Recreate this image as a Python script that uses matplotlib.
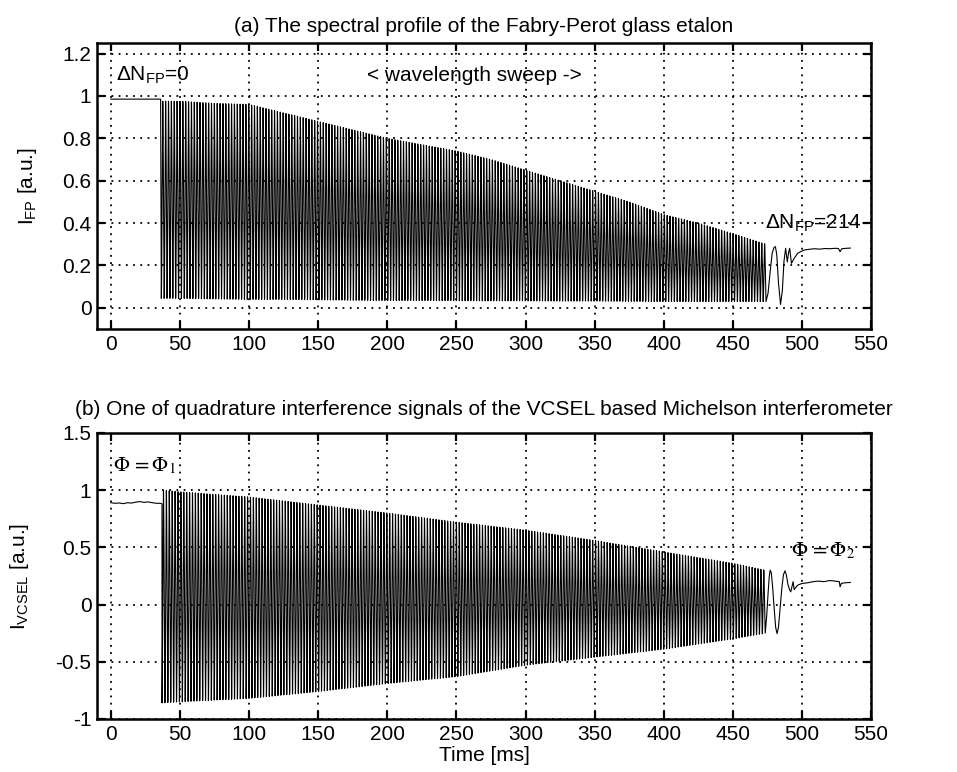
import numpy as np
import matplotlib
matplotlib.use("Agg")
import matplotlib.pyplot as plt
from matplotlib.ticker import FormatStrFormatter

plt.rcParams['font.family'] = ['Liberation Sans', 'DejaVu Sans']
plt.rcParams['mathtext.fontset'] = 'custom'
plt.rcParams['mathtext.rm'] = 'Liberation Sans'
plt.rcParams['mathtext.it'] = 'Liberation Sans:italic'

# ---- (a) Fabry-Perot etalon ----
fp_flat_t = [0, 36]
fp_flat_v = [0.985, 0.985]
fp_t0, fp_t1 = 36.5, 474.0          # dense fringe region
fp_fringes = 211                    # fringes inside the dense region
fp_env_t = [36, 50, 75, 100, 125, 150, 175, 200, 225, 250, 275, 300, 325,
            350, 375, 400, 425, 450, 474]
fp_env_up = [0.975, 0.975, 0.965, 0.96, 0.92, 0.88, 0.84, 0.80, 0.77, 0.74,
             0.70, 0.65, 0.60, 0.55, 0.50, 0.44, 0.40, 0.35, 0.30]
fp_env_lo = [0.045, 0.045, 0.042, 0.04, 0.04, 0.038, 0.036, 0.035, 0.035,
             0.034, 0.033, 0.033, 0.032, 0.032, 0.031, 0.03, 0.03, 0.03, 0.03]
fp_tail_t = [474.0, 475.5, 477.0, 478.5, 479.8, 480.8, 481.8, 483.0, 484.5,
             485.8, 487.0, 488.2, 489.4, 490.3, 491.1, 492.4, 494.3, 496.8,
             499, 501.7, 505, 509, 513, 516.5, 520, 524, 526.4, 527.6, 528.8,
             532, 535]
fp_tail_v = [0.03, 0.07, 0.17, 0.26, 0.285, 0.289, 0.25, 0.12, 0.016, 0.08,
             0.22, 0.281, 0.217, 0.26, 0.281, 0.21, 0.233, 0.257, 0.265, 0.273,
             0.276, 0.279, 0.277, 0.280, 0.279, 0.281, 0.280, 0.265, 0.279,
             0.281, 0.282]

# ---- (b) VCSEL Michelson ----
mi_flat_t = [0, 3, 6, 9, 12, 15, 18, 21, 24, 27, 30, 33, 36, 37]
mi_flat_v = [0.89, 0.885, 0.888, 0.882, 0.89, 0.887, 0.895, 0.9, 0.893,
             0.897, 0.89, 0.885, 0.885, 0.88]
mi_t0, mi_t1 = 37.0, 473.4
mi_fringes = 208
mi_env_t = [37, 50, 100, 150, 200, 250, 300, 350, 400, 450, 473.4]
mi_env_up = [1.0, 0.985, 0.94, 0.87, 0.80, 0.72, 0.65, 0.56, 0.46, 0.36, 0.30]
mi_env_lo = [-0.86, -0.85, -0.82, -0.76, -0.69, -0.63, -0.53, -0.46, -0.39,
             -0.30, -0.25]
mi_tail_t = [473.4, 474.5, 475.5, 476.3, 477.0, 477.8, 478.8, 480.0, 481.0,
             482.0, 483.0, 484.2, 485.5, 486.6, 487.7, 488.7, 489.8, 491.0,
             491.9, 492.8, 493.6, 494.4, 495.5, 497, 500, 504, 508, 512, 516,
             520, 524, 527, 527.6, 528.5, 531, 535]
mi_tail_v = [-0.25, -0.10, 0.10, 0.24, 0.30, 0.28, 0.15, -0.05, -0.20,
             -0.254, -0.20, -0.03, 0.15, 0.26, 0.295, 0.26, 0.18, 0.13, 0.111,
             0.16, 0.20, 0.13, 0.15, 0.17, 0.184, 0.19, 0.20, 0.205, 0.20,
             0.21, 0.205, 0.20, 0.155, 0.185, 0.19, 0.193]

xticks = np.arange(0, 551, 50)
FS = 15


def fringe_signal(t0, t1, n, env_t, up, lo, sign):
    # fringes of the given count between the read envelopes
    t = np.linspace(t0, t1, n * 24 + 1)
    ph = 2 * np.pi * n * (t - t0) / (t1 - t0)
    u = np.interp(t, env_t, up)
    l = np.interp(t, env_t, lo)
    return t, (u + l) / 2 + sign * (u - l) / 2 * np.cos(ph)


def style(ax, ylim, yticks):
    ax.set_xlim(-10, 550)
    ax.set_ylim(*ylim)
    ax.set_xticks(xticks)
    ax.set_yticks(yticks)
    ax.yaxis.set_major_formatter(FormatStrFormatter('%g'))
    ax.tick_params(direction='in', length=6, width=1.6, top=True, right=True,
                   labelsize=FS, pad=4)
    for s in ax.spines.values():
        s.set_linewidth(1.8)
    ax.grid(True, color='black', linestyle=(0, (1, 3)), linewidth=1.3)
    ax.set_axisbelow(True)


fig = plt.figure(figsize=(9.57, 7.72), dpi=100)
ax1 = fig.add_axes([0.1014, 0.5738, 0.8088, 0.3705])
ax2 = fig.add_axes([0.1014, 0.0687, 0.8088, 0.3705])

# (a)
t, v = fringe_signal(fp_t0, fp_t1, fp_fringes, fp_env_t, fp_env_up, fp_env_lo, -1)
ax1.plot(np.r_[fp_flat_t, t, fp_tail_t], np.r_[fp_flat_v, v, fp_tail_v],
         color='black', lw=0.8)
style(ax1, (-0.1, 1.25), np.arange(0, 1.21, 0.2))
ax1.set_title('(a) The spectral profile of the Fabry-Perot glass etalon',
              fontsize=15, pad=8)
ax1.set_ylabel(r'I$_{\mathrm{FP}}$ [a.u.]', fontsize=FS)
ax1.yaxis.set_label_coords(-0.075, 0.5)
ax1.text(4, 1.07, r'$\Delta$N$_{\mathrm{FP}}$=0', fontsize=FS)
ax1.text(263, 1.07, '< wavelength sweep ->', fontsize=FS, ha='center')
ax1.text(543, 0.372, r'$\Delta$N$_{\mathrm{FP}}$=214', fontsize=FS, ha='right')

# (b)
t, v = fringe_signal(mi_t0, mi_t1, mi_fringes, mi_env_t, mi_env_up, mi_env_lo, -1)
ax2.plot(np.r_[mi_flat_t, t, mi_tail_t], np.r_[mi_flat_v, v, mi_tail_v],
         color='black', lw=0.8)
style(ax2, (-1, 1.5), np.arange(-1, 1.51, 0.5))
ax2.set_title('(b) One of quadrature interference signals of the VCSEL based '
              'Michelson interferometer', fontsize=15, pad=13)
ax2.set_ylabel(r'I$_{\mathrm{VCSEL}}$ [a.u.]', fontsize=FS)
ax2.yaxis.set_label_coords(-0.085, 0.5)
ax2.set_xlabel('Time [ms]', fontsize=FS)
ax2.xaxis.set_label_coords(0.5, -0.095)
ax2.text(1.5, 1.165, r'$\Phi\,=\Phi_{1}$', fontsize=15, math_fontfamily='stix')
ax2.text(538, 0.426, r'$\Phi\,=\Phi_{2}$', fontsize=15, math_fontfamily='stix',
         ha='right')

fig.savefig('out.png', dpi=100)
